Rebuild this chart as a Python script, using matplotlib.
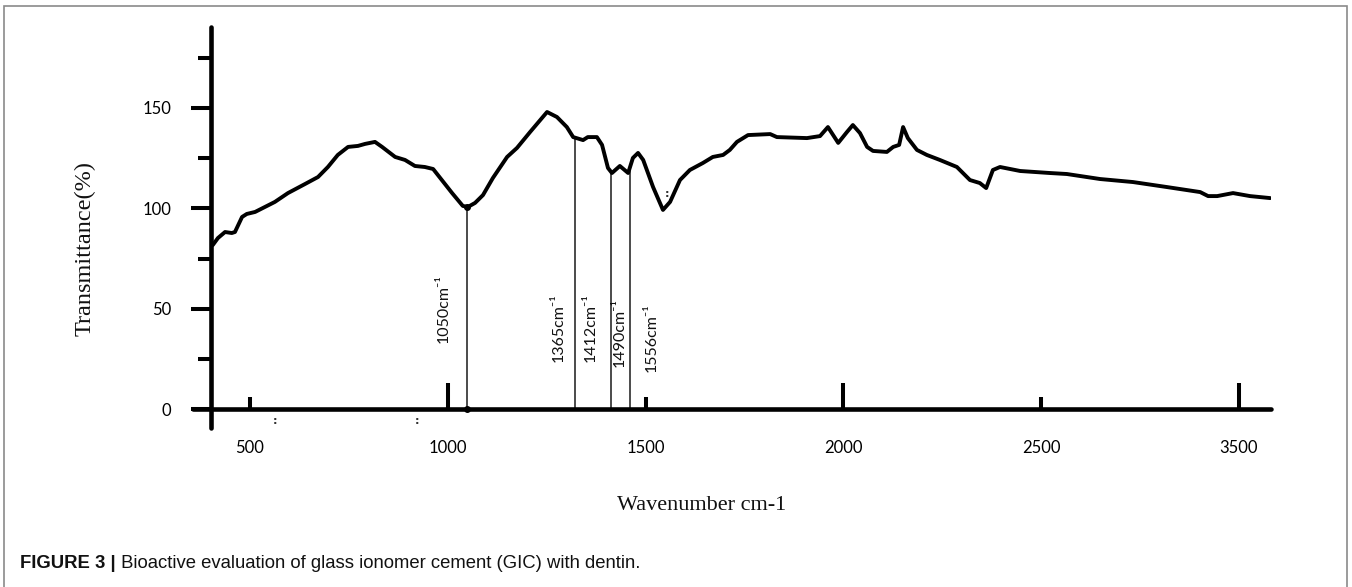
import numpy as np
import matplotlib
matplotlib.use("Agg")
import matplotlib.pyplot as plt
from matplotlib.patches import Rectangle

# ---------------- data ----------------
wavenumber = [406, 419, 437, 454, 462, 480, 492, 513, 538, 563, 596, 639, 672, 697,
              722, 748, 773, 791, 816, 834, 867, 892, 917, 942, 963, 985, 1011, 1038,
              1051, 1069, 1089, 1114, 1150, 1175, 1208, 1251, 1276, 1301, 1317, 1342,
              1354, 1377, 1390, 1405, 1415, 1435, 1456, 1468, 1481, 1494, 1519, 1544,
              1562, 1587, 1612, 1645, 1670, 1696, 1713, 1731, 1759, 1815, 1832, 1908,
              1941, 1961, 1987, 2009, 2024, 2042, 2060, 2075, 2110, 2126, 2141, 2151,
              2163, 2186, 2211, 2244, 2287, 2320, 2345, 2361, 2378, 2396, 2447, 2522,
              2565, 2649, 2732, 2818, 2902, 2922, 2945, 2985, 3028, 3079]
transmittance = [81.7, 85.2, 88.2, 87.7, 88.2, 95.7, 97.2, 98.2, 100.7, 103.2, 107.6,
                 112.1, 115.6, 120.6, 126.6, 130.6, 131.1, 132.1, 133.1, 130.6, 125.6,
                 124.1, 121.1, 120.6, 119.6, 114.1, 107.6, 101.2, 100.7, 102.7, 106.6,
                 115.1, 125.6, 130.1, 138.0, 148.0, 145.5, 140.5, 135.5, 134.0, 135.5,
                 135.5, 131.6, 120.1, 117.6, 121.1, 117.6, 125.1, 127.6, 124.1, 110.6,
                 99.2, 103.2, 114.1, 119.1, 122.6, 125.6, 126.6, 129.1, 133.1, 136.5,
                 137.0, 135.5, 135.0, 136.0, 140.5, 132.6, 138.0, 141.5, 137.5, 130.6,
                 128.6, 128.1, 130.6, 131.6, 140.5, 135.0, 129.1, 126.6, 124.1, 120.6,
                 114.1, 112.6, 110.1, 119.1, 120.6, 118.6, 117.6, 117.1, 114.6, 113.1,
                 110.6, 108.1, 106.1, 106.1, 107.6, 106.1, 105.1]

# peak marker lines (position on the drawn axis)
peak_line_x = [1049, 1322, 1412, 1461]
# peak annotations
peak_labels = ["1050", "1365", "1412", "1490", "1556"]
peak_label_x = [990, 1281, 1362, 1435, 1516]
peak_label_y = [33, 23.5, 23.5, 21, 18.5]

# small scan specks seen in the picture
speck_x = [563, 922, 1554]
speck_y = [-6, -6, 107]

xticks_long = [1000, 2000, 3000]
xticks_short = [500, 1500, 2500]
xtick_labels_long = ["1000", "2000", "3500"]
xtick_labels_short = ["500", "1500", "2500"]
yticks_major = [0, 50, 100, 150]
yticks_minor = [25, 75, 125, 175]

# ---------------- figure ----------------
W, H = 1352, 587
fig = plt.figure(figsize=(W / 100, H / 100), dpi=100)
fig.patch.set_facecolor("white")

# frame around the figure
fig.patches.append(Rectangle((4 / W, -0.05), (1347 - 4) / W, 1.05 - 6 / H,
                             transform=fig.transFigure, fill=False,
                             edgecolor="#8a8a8a", linewidth=1.2))

ax = fig.add_axes([193 / W, (H - 428.1) / H, 1078 / W, 401 / H])
ax.set_xlim(356, 3081)
ax.set_ylim(-9.5, 190.3)
ax.set_facecolor("none")

for s in ("top", "right"):
    ax.spines[s].set_visible(False)
ax.spines["bottom"].set_position(("data", 0))
ax.spines["left"].set_position(("data", 401))
for s in ("bottom", "left"):
    ax.spines[s].set_linewidth(3.3)
    ax.spines[s].set_color("black")
    ax.spines[s].set_capstyle("round")

# spectrum
ax.plot(wavenumber, transmittance, color="black", lw=2.8,
        solid_joinstyle="round", solid_capstyle="round", zorder=3)

# peak lines
tops = np.interp(peak_line_x, wavenumber, transmittance)
ax.vlines(peak_line_x, 0, tops, colors="#1a1a1a", linewidth=1.1, zorder=2)
ax.plot([peak_line_x[0], peak_line_x[0]], [0, tops[0]], "o", color="black",
        ms=4, zorder=4, clip_on=False)

for lbl, x, y in zip(peak_labels, peak_label_x, peak_label_y):
    ax.text(x, y, lbl + "cm\u207b\u00b9", rotation=90, ha="center", va="bottom",
            fontsize=11.5, family=["Lato", "DejaVu Sans"], color="#111111")

for x, y in zip(speck_x, speck_y):
    ax.text(x, y, ":", ha="center", va="center", fontsize=8, weight="bold",
            color="#333333", family="DejaVu Sans", clip_on=False)

tick_font = dict(family="Lato", size=12)
# x ticks
ax.set_xticks(xticks_long)
ax.set_xticklabels(xtick_labels_long, **tick_font)
ax.set_xticks(xticks_short, minor=True)
ax.set_xticklabels(xtick_labels_short, minor=True, **tick_font)
ax.tick_params(axis="x", which="major", direction="in", length=19, width=2.9, pad=22)
ax.tick_params(axis="x", which="minor", direction="in", length=9, width=2.9, pad=22)

# y ticks
ax.set_yticks(yticks_major)
ax.set_yticklabels([str(v) for v in yticks_major], **tick_font)
ax.set_yticks(yticks_minor, minor=True)
ax.tick_params(axis="y", which="major", direction="out", length=14.5, width=2.9, pad=14)
ax.tick_params(axis="y", which="minor", direction="out", length=9.5, width=2.9)

# axis titles
fig.text(85 / W, 1 - 248 / H, "Transmittance(%)", rotation=90, ha="center", va="center",
         family="Liberation Serif", fontsize=17.5, color="#111111")
fig.text(702 / W, 1 - 505 / H, "Wavenumber cm-1", ha="center", va="center",
         family="Liberation Serif", fontsize=16, color="#111111")

# caption
cap_font = ["Liberation Sans Narrow", "Liberation Sans", "DejaVu Sans"]
t1 = fig.text(20 / W, 1 - 563 / H, "FIGURE 3 |", ha="left", va="center",
              family=cap_font, fontsize=13.3, weight="bold", color="#111111")
ax.annotate(" Bioactive evaluation of glass ionomer cement (GIC) with dentin.",
            xy=(1, 0.5), xycoords=t1, ha="left", va="center",
            family=cap_font, fontsize=13.3, color="#111111", annotation_clip=False)

fig.savefig("out.png", dpi=100, facecolor="white")
